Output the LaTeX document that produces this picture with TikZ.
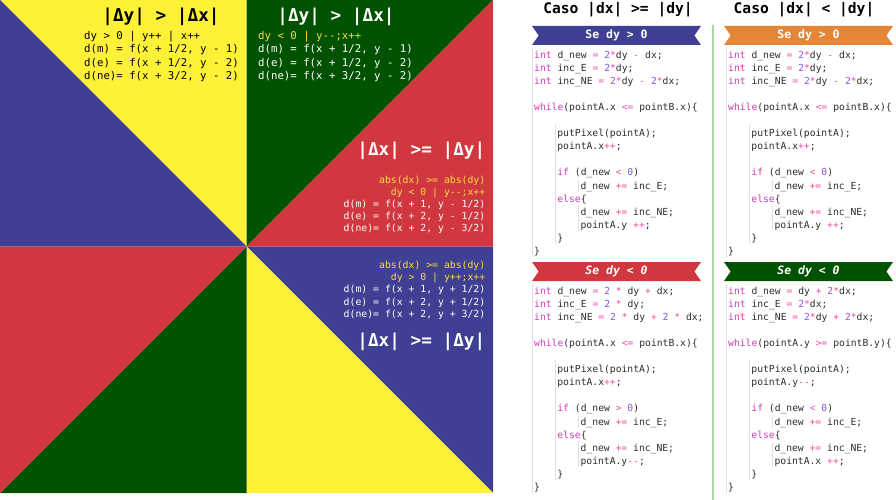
\documentclass[tikz,border=0pt]{standalone}
\usepackage{fontspec}
\setmainfont{DejaVu Sans}
\setmonofont{DejaVu Sans Mono}
\usepackage{tikz}
\usetikzlibrary{positioning, shapes.symbols}
\definecolor{triyellow}{RGB}{255,241,56}
\definecolor{triblue}{RGB}{63,63,147}
\definecolor{trigreen}{RGB}{0,82,0}
\definecolor{trired}{RGB}{209,55,62}
\definecolor{riborange}{RGB}{228,134,56}
\definecolor{goldtext}{RGB}{250,222,60}
\definecolor{codegray}{RGB}{45,45,45}
\definecolor{kwcol}{RGB}{205,60,185}
\definecolor{numcol}{RGB}{135,85,225}
\definecolor{opcol}{RGB}{235,75,165}
\definecolor{sepgreen}{RGB}{170,215,160}
\tikzset{
	bigtitle/.style={inner sep=0pt, font=\ttfamily\bfseries\fontsize{17.7}{20}\selectfont},
	formtext/.style={inner sep=0pt, anchor=base west, font=\ttfamily\fontsize{10.7}{13}\selectfont},
	smallform/.style={inner sep=0pt, anchor=base east, font=\ttfamily\fontsize{9.8}{12}\selectfont},
	codeline/.style={inner sep=0pt, anchor=base west, text=codegray, font=\ttfamily\fontsize{9.7}{12}\selectfont},
	casetitle/.style={inner sep=0pt, anchor=base, font=\ttfamily\bfseries\fontsize{14.6}{17}\selectfont},
	guide/.style={draw=black!12, line width=0.6pt},
	ribbon/.style={shape=signal, signal to=nowhere, signal from=west and east,
		signal pointer angle=110, minimum width=169pt, minimum height=19pt,
		inner sep=0pt, fill=#1, text=white, font=\ttfamily\bfseries\fontsize{11.5}{13}\selectfont}
}
\newcommand{\ckw}[1]{\textcolor{kwcol}{#1}}
\newcommand{\cnum}[1]{\textcolor{numcol}{#1}}
\newcommand{\cop}[1]{\textcolor{opcol}{#1}}

\begin{document}
\begin{tikzpicture}[x=1pt, y=-1pt]
  \useasboundingbox (0,0) rectangle (896,500);
  % the eight octants
  \coordinate (c) at (246.5,246.5);
  \coordinate (tl) at (0,0);     \coordinate (t) at (246.5,0);
  \coordinate (tr) at (493,0);   \coordinate (r) at (493,246.5);
  \coordinate (br) at (493,493); \coordinate (b) at (246.5,493);
  \coordinate (bl) at (0,493);   \coordinate (l) at (0,246.5);
  \fill[triyellow] (c) -- (tl) -- (t) -- cycle;
  \fill[triblue] (c) -- (l) -- (tl) -- cycle;
  \fill[trigreen] (c) -- (t) -- (tr) -- cycle;
  \fill[trired] (c) -- (tr) -- (r) -- cycle;
  \fill[triblue] (c) -- (r) -- (br) -- cycle;
  \fill[triyellow] (c) -- (br) -- (b) -- cycle;
  \fill[trigreen] (c) -- (b) -- (bl) -- cycle;
  \fill[trired] (c) -- (bl) -- (l) -- cycle;

  % octant labels
  \node[bigtitle, anchor=base] (ytitle) at (161,21.7) {|Δy| > |Δx|};
  \foreach \k/\txt in {0/{dy > 0 | y++ | x++}, 1/{d(m) = f(x + 1/2, y - 1)},
      2/{d(e) = f(x + 1/2, y - 2)}, 3/{d(ne)= f(x + 3/2, y - 2)}}
    \node[formtext] (ytext-\k) at (84,39.5+13.5*\k) {\txt};
  \node[bigtitle, anchor=base, text=white] (gtitle) at (336,21.7) {|Δy| > |Δx|};
  \node[formtext, text=goldtext] (gtext-0) at (258,39.5) {dy < 0 | y--;x++};
  \foreach \k/\txt in {1/{d(m) = f(x + 1/2, y - 1)},
      2/{d(e) = f(x + 1/2, y - 2)}, 3/{d(ne)= f(x + 3/2, y - 2)}}
    \node[formtext, text=white] (gtext-\k) at (258,39.5+13.5*\k) {\txt};

  \node[bigtitle, anchor=base east, text=white] (rtitle) at (485.5,155) {|Δx| >= |Δy|};
  \node[smallform, text=goldtext] (rtext-0) at (485.5,183.5) {abs(dx) >= abs(dy)};
  \node[smallform, text=goldtext] (rtext-1) at (485.5,195.5) {dy < 0 | y--;x++};
  \foreach \k/\txt in {2/{d(m) = f(x + 1, y - 1/2)},
      3/{d(e) = f(x + 2, y - 1/2)}, 4/{d(ne)= f(x + 2, y - 3/2)}}
    \node[smallform, text=white] (rtext-\k) at (485.5,183.5+12*\k) {\txt};

  \node[smallform, text=goldtext] (btext-0) at (485.5,268.3) {abs(dx) >= abs(dy)};
  \node[smallform, text=goldtext] (btext-1) at (485.5,280.5) {dy > 0 | y++;x++};
  \foreach \k/\txt in {2/{d(m) = f(x + 1, y + 1/2)},
      3/{d(e) = f(x + 2, y + 1/2)}, 4/{d(ne)= f(x + 2, y + 3/2)}}
    \node[smallform, text=white] (btext-\k) at (485.5,268.3+12.25*\k) {\txt};
  \node[bigtitle, anchor=base east, text=white] (btitle) at (485.5,346.7) {|Δx| >= |Δy|};

  % code columns
  \draw[sepgreen, line width=2.5pt] (713,25) -- (713,500);
  \foreach \cx in {534, 728}
    \foreach \yb in {58.5, 294.5} {
      \draw[guide] (\cx-2,\yb-11) -- (\cx-2,\yb+13.05*15+3);
      \draw[guide] (\cx+21,\yb+13.05*5) -- (\cx+21,\yb+13.05*14+3);
      \draw[guide] (\cx+44,\yb+13.05*9.3) -- (\cx+44,\yb+13.05*10+3);
      \draw[guide] (\cx+44,\yb+13.05*11.3) -- (\cx+44,\yb+13.05*13+3);
    }
  \node[casetitle] (case1) at (618,13.5) {Caso |dx| >= |dy|};
  \node[casetitle] (case2) at (804,13.5) {Caso |dx| < |dy|};
  \node[ribbon=triblue] (rib1) at (616.5,35.5) {Se dy > 0};
  \node[ribbon=riborange] (rib2) at (808.5,35.5) {Se dy > 0};
  \node[ribbon=trired, font=\ttfamily\bfseries\itshape\fontsize{11.5}{13}\selectfont] (rib3) at (616.5,271.5) {Se dy < 0};
  \node[ribbon=trigreen, font=\ttfamily\bfseries\itshape\fontsize{11.5}{13}\selectfont] (rib4) at (808.5,271.5) {Se dy < 0};

  \foreach \cx/\tag in {534/a, 728/c}
    \foreach \k/\ind/\txt in {
        0/0/{\ckw{int} d\_new \cop{=} \cnum{2}\cop{*}dy \cop{-} dx;},
        1/0/{\ckw{int} inc\_E \cop{=} \cnum{2}\cop{*}dy;},
        2/0/{\ckw{int} inc\_NE \cop{=} \cnum{2}\cop{*}dy \cop{-} \cnum{2}\cop{*}dx;},
        4/0/{\ckw{while}(pointA.x \cop{<=} pointB.x)\{},
        6/1/{putPixel(pointA);},
        7/1/{pointA.x\cop{++};},
        9/1/{\ckw{if} (d\_new \cop{<} \cnum{0})},
        10/2/{d\_new \cop{+=} inc\_E;},
        11/1/{\ckw{else}\{},
        12/2/{d\_new \cop{+=} inc\_NE;},
        13/2/{pointA.y \cop{++};},
        14/1/{\}},
        15/0/{\}}}
      \node[codeline] (\tag-\k) at (\cx+23.2*\ind,58.5+13.05*\k) {\txt};

  \foreach \k/\ind/\txt in {
      0/0/{\ckw{int} d\_new \cop{=} \cnum{2} \cop{*} dy \cop{+} dx;},
      1/0/{\ckw{int} inc\_E \cop{=} \cnum{2} \cop{*} dy;},
      2/0/{\ckw{int} inc\_NE \cop{=} \cnum{2} \cop{*} dy \cop{+} \cnum{2} \cop{*} dx;},
      4/0/{\ckw{while}(pointA.x \cop{<=} pointB.x)\{},
      6/1/{putPixel(pointA);},
      7/1/{pointA.x\cop{++};},
      9/1/{\ckw{if} (d\_new \cop{>} \cnum{0})},
      10/2/{d\_new \cop{+=} inc\_E;},
      11/1/{\ckw{else}\{},
      12/2/{d\_new \cop{+=} inc\_NE;},
      13/2/{pointA.y\cop{--};},
      14/1/{\}},
      15/0/{\}}}
    \node[codeline] (b-\k) at (534+23.2*\ind,294.5+13.05*\k) {\txt};

  \foreach \k/\ind/\txt in {
      0/0/{\ckw{int} d\_new \cop{=} dy \cop{+} \cnum{2}\cop{*}dx;},
      1/0/{\ckw{int} inc\_E \cop{=} \cnum{2}\cop{*}dx;},
      2/0/{\ckw{int} inc\_NE \cop{=} \cnum{2}\cop{*}dy \cop{+} \cnum{2}\cop{*}dx;},
      4/0/{\ckw{while}(pointA.y \cop{>=} pointB.y)\{},
      6/1/{putPixel(pointA);},
      7/1/{pointA.y\cop{--};},
      9/1/{\ckw{if} (d\_new \cop{<} \cnum{0})},
      10/2/{d\_new \cop{+=} inc\_E;},
      11/1/{\ckw{else}\{},
      12/2/{d\_new \cop{+=} inc\_NE;},
      13/2/{pointA.x \cop{++};},
      14/1/{\}},
      15/0/{\}}}
    \node[codeline] (d-\k) at (728+23.2*\ind,294.5+13.05*\k) {\txt};
\end{tikzpicture}
\end{document}
